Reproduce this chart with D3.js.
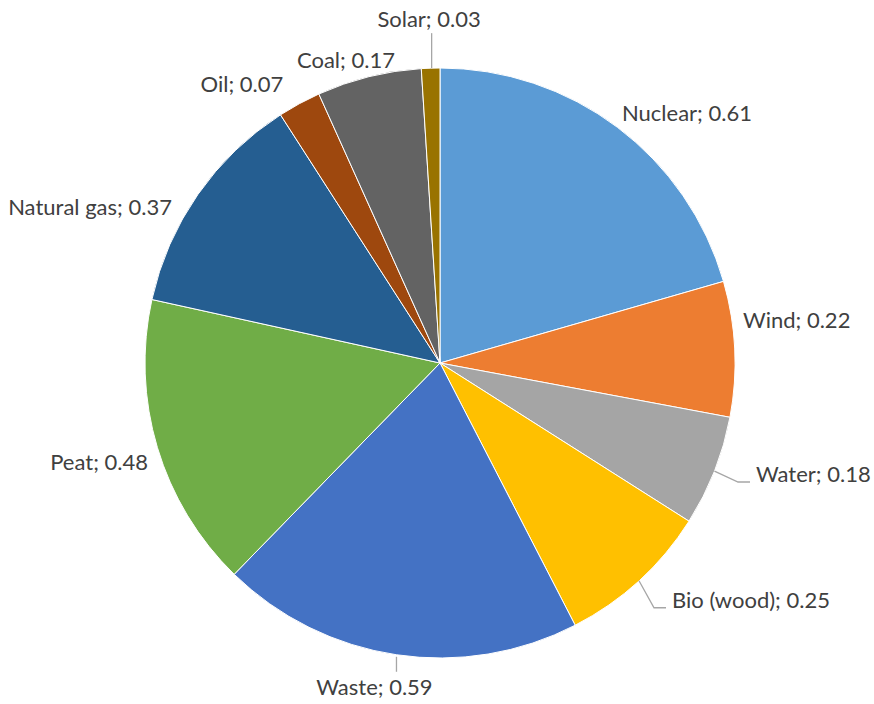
<!DOCTYPE html>
<html>
<head>
<meta charset="utf-8">
<script src="https://cdn.jsdelivr.net/npm/d3@7"></script>
<style>
  html, body { margin: 0; padding: 0; background: #fff; }
  svg { display: block; }
</style>
</head>
<body>
<svg id="chart" width="874" height="704"></svg>
<script>
// ---- data ----
const categories = ["Nuclear", "Wind", "Water", "Bio (wood)", "Waste", "Peat", "Natural gas", "Oil", "Coal", "Solar"];
const values = [0.61, 0.22, 0.18, 0.25, 0.59, 0.48, 0.37, 0.07, 0.17, 0.03];
const valueLabels = ["0.61", "0.22", "0.18", "0.25", "0.59", "0.48", "0.37", "0.07", "0.17", "0.03"];

// ---- style / layout ----
const colors = ["#5B9BD5", "#ED7D31", "#A5A5A5", "#FFC000", "#4472C4", "#70AD47", "#255E91", "#9E480E", "#636363", "#997300"];
// label offset from outer arc point at slice mid-angle: [dx, dy(baseline), anchor, leader]
const labelLayout = [
  [4.6, -6.3, "start", null],
  [8.3, -21, "start", null],
  [41.6, 10.8, "start", "right"],
  [33, 27, "start", "right"],
  [-22, 40, "middle", "down"],
  [-9.4, 22, "end", null],
  [-26, 20.6, "end", null],
  [-16, -11.7, "end", null],
  [-23, -8.7, "middle", null],
  [-1.6, -41, "middle", "up"]
];

const W = 874, H = 704;
const cx = 440, cy = 363, R = 295;

const svg = d3.select("#chart");
const g = svg.append("g").attr("transform", `translate(${cx},${cy})`);

const data = categories.map((c, i) => ({ name: c, value: values[i], label: valueLabels[i], i }));
const pie = d3.pie().value(d => d.value).sort(null);
const arcs = pie(data);
const arc = d3.arc().innerRadius(0).outerRadius(R);

g.selectAll("path.slice")
  .data(arcs)
  .join("path")
  .attr("class", "slice")
  .attr("d", arc)
  .attr("fill", d => colors[d.data.i])
  .attr("stroke", "#fff")
  .attr("stroke-width", 1);

function outerPoint(d) {
  const a = (d.startAngle + d.endAngle) / 2;
  return [R * Math.sin(a), -R * Math.cos(a)];
}

// leader lines
arcs.forEach(d => {
  const L = labelLayout[d.data.i];
  if (!L[3]) return;
  const [px, py] = outerPoint(d);
  const tx = px + L[0], ty = py + L[1];
  let pts;
  if (L[3] === "right") {
    pts = [[px, py], [tx - 18, ty], [tx - 6, ty]];
  } else if (L[3] === "down") {
    pts = [[px, py + 2], [px, ty - 23]];
  } else {
    pts = [[px + 1, py], [px + 1, ty + 6]];
  }
  g.append("polyline")
    .attr("points", pts.map(p => p.join(",")).join(" "))
    .attr("fill", "none")
    .attr("stroke", "#A6A6A6")
    .attr("stroke-width", 1.3);
});

g.selectAll("text.lbl")
  .data(arcs)
  .join("text")
  .attr("class", "lbl")
  .attr("x", d => outerPoint(d)[0] + labelLayout[d.data.i][0])
  .attr("y", d => outerPoint(d)[1] + labelLayout[d.data.i][1])
  .attr("text-anchor", d => labelLayout[d.data.i][2])
  .attr("font-family", "Lato, 'Open Sans', sans-serif")
  .attr("font-size", 22)
  .attr("fill", "#404040")
  .text(d => `${d.data.name}; ${d.data.label}`);
</script>
</body>
</html>
